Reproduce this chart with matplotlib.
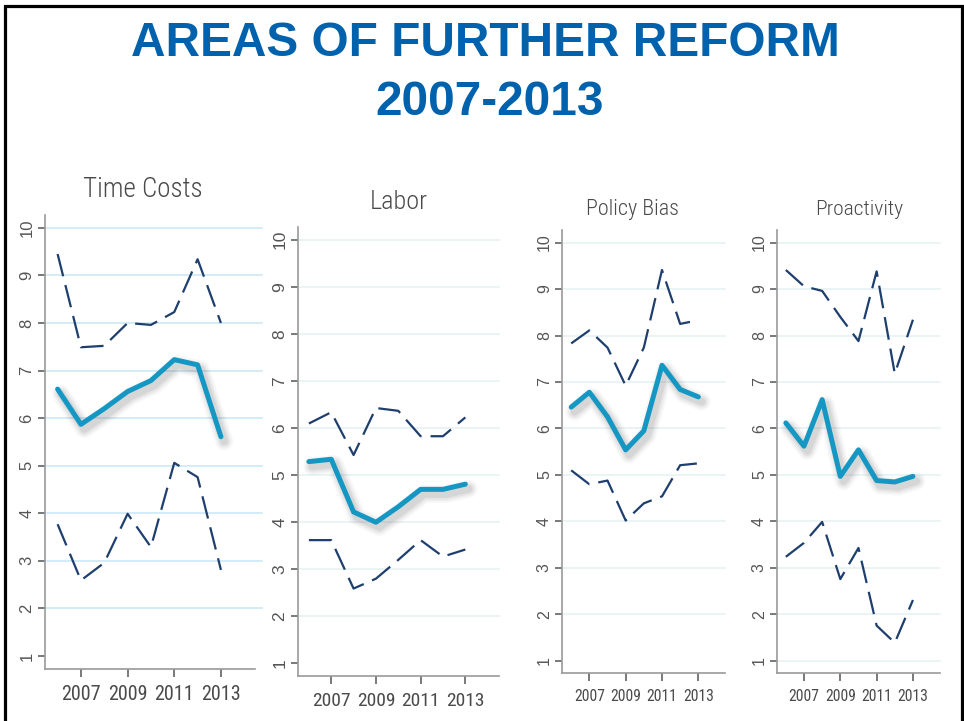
import matplotlib
matplotlib.use("Agg")
import matplotlib.pyplot as plt
import matplotlib.patheffects as pe
from matplotlib import font_manager as fm
from matplotlib.patches import Rectangle

# ---------------- data ----------------
years = [2006, 2007, 2008, 2009, 2010, 2011, 2012, 2013]
xtick_years = [2007, 2009, 2011, 2013]
ytick_vals = [1, 2, 3, 4, 5, 6, 7, 8, 9, 10]
panel_titles = ["Time Costs", "Labor", "Policy Bias", "Proactivity"]
title_line1 = "AREAS OF FURTHER REFORM"
title_line2 = "2007-2013"

time_upper = [9.45, 7.49, 7.52, 8.00, 7.96, 8.23, 9.34, 8.00]
time_mid = [6.61, 5.87, 6.20, 6.56, 6.79, 7.23, 7.12, 5.61]
time_lower = [3.77, 2.59, 2.96, 3.99, 3.29, 5.06, 4.76, 2.81]

labor_upper = [6.09, 6.33, 5.42, 6.42, 6.36, 5.82, 5.82, 6.22]
labor_mid = [5.28, 5.33, 4.21, 3.99, 4.32, 4.69, 4.69, 4.80]
labor_lower = [3.61, 3.61, 2.58, 2.79, 3.19, 3.61, 3.26, 3.41]

policy_upper = [7.83, 8.11, 7.74, 6.92, 7.74, 9.41, 8.25, 8.33]
policy_mid = [6.46, 6.78, 6.25, 5.54, 5.95, 7.36, 6.84, 6.68]
policy_lower = [5.10, 4.80, 4.88, 4.02, 4.39, 4.54, 5.21, 5.25]

proact_upper = [9.41, 9.06, 8.96, 8.40, 7.88, 9.38, 7.18, 8.34]
proact_mid = [6.12, 5.62, 6.62, 4.97, 5.54, 4.88, 4.85, 4.97]
proact_lower = [3.24, 3.54, 3.99, 2.76, 3.43, 1.76, 1.39, 2.31]

series = [
    (time_upper, time_mid, time_lower),
    (labor_upper, labor_mid, labor_lower),
    (policy_upper, policy_mid, policy_lower),
    (proact_upper, proact_mid, proact_lower),
]

# ---------------- fonts ----------------
installed = {f.name for f in fm.fontManager.ttflist}

def pick(names, default):
    for n in names:
        if n in installed:
            return n
    return default

narrow = pick(["Roboto Condensed", "Liberation Sans Narrow", "Archivo Narrow", "PT Sans Narrow",
               "Open Sans Condensed", "IBM Plex Sans Condensed", "Fira Sans Condensed",
               "Encode Sans Condensed", "Asap Condensed", "Barlow Semi Condensed"], "Roboto")
regular = pick(["Liberation Sans", "Arimo"], "DejaVu Sans")

W, H = 964, 721
fig = plt.figure(figsize=(W / 100, H / 100), dpi=100)
fig.patch.set_facecolor("white")
renderer = fig.canvas.get_renderer()

def fit_size(text, family, target_px, base=20.0, weight="normal"):
    t = fig.text(0, 0, text, fontfamily=family, fontsize=base, fontweight=weight)
    w = t.get_window_extent(renderer).width
    t.remove()
    return base * target_px / w

def frac_rect(left, right, top, bottom):
    return [left / W, 1 - bottom / H, (right - left) / W, (bottom - top) / H]

# panel geometry in pixels (left, right, top, bottom), limits
panels = [
    dict(rect=frac_rect(45, 255, 215, 669), xlim=(2005.46, 2014.46), ylim=(0.727, 10.27),
         grid="#c8e6f7", gext=1.035, glevels=[2, 3, 4, 5, 6, 7, 8, 9, 10],
         title_xy=(142.5, 197), twidth=119, xw=40, yfs=12),
    dict(rect=frac_rect(297.7, 499.3, 227, 676), xlim=(2005.5, 2014.52), ylim=(0.72, 10.27),
         grid="#e6f1f2", gext=1.0, glevels=[2, 3, 4, 5, 6, 7, 8, 9, 10],
         title_xy=(399, 209), twidth=58, xw=38.5, yfs=12.5),
    dict(rect=frac_rect(562.3, 725, 230, 673), xlim=(2005.51, 2014.47), ylim=(0.74, 10.27),
         grid="#e6f1f2", gext=1.0, glevels=[2, 3, 4, 5, 6, 7, 8, 9, 10],
         title_xy=(632.5, 215), twidth=93, xw=31, yfs=11.5),
    dict(rect=frac_rect(777.3, 940, 230, 673), xlim=(2005.53, 2014.49), ylim=(0.74, 10.27),
         grid="#e6f1f2", gext=1.0, glevels=[1, 2, 3, 4, 5, 6, 7, 8, 9, 10],
         title_xy=(859.5, 215), twidth=88, xw=31, yfs=11.5),
]

main_color = "#1597c4"
dash_color = "#1e3f6e"
axis_gray = "#9a9a9a"
text_gray = "#4a4a4a"

shadow = [pe.SimpleLineShadow(offset=(2.4, -3.4), shadow_color="#3a3a3a", alpha=a, linewidth=w)
          for w, a in [(13, 0.035), (10.5, 0.045), (8, 0.06), (5.5, 0.08)]] + [pe.Normal()]

for p, (up, mid, low), title in zip(panels, series, panel_titles):
    ax = fig.add_axes(p["rect"])
    ax.set_xlim(*p["xlim"])
    ax.set_ylim(*p["ylim"])
    ax.set_facecolor("none")
    for s in ["top", "right"]:
        ax.spines[s].set_visible(False)
    for s in ["left", "bottom"]:
        ax.spines[s].set_color(axis_gray)
        ax.spines[s].set_linewidth(1.2)
    for g in p["glevels"]:
        ax.plot([0, p["gext"]], [g, g], transform=ax.get_yaxis_transform(),
                color=p["grid"], lw=1.1, zorder=0, clip_on=False)
    lw_d = 1.6
    for ser in (up, low):
        ax.plot(years, ser, color=dash_color, lw=lw_d, dashes=(16.5 / lw_d, 6.5 / lw_d),
                dash_capstyle="butt", solid_joinstyle="miter", zorder=3)
    ax.plot(years, mid, color=main_color, lw=3.6, solid_joinstyle="round",
            solid_capstyle="round", zorder=4, path_effects=shadow)
    xfs = fit_size("2007", narrow, p["xw"])
    ax.set_xticks(xtick_years)
    ax.set_xticklabels([str(y) for y in xtick_years], fontfamily=narrow,
                       fontsize=xfs, color=text_gray)
    ax.set_yticks(ytick_vals)
    ax.set_yticklabels([str(v) for v in ytick_vals], fontfamily=regular,
                       fontsize=p["yfs"], color="#555555", rotation=90, va="center")
    ax.tick_params(axis="x", length=5.8, width=1.1, color="#555555", pad=6.0, direction="out")
    ax.tick_params(axis="y", length=5.0, width=1.1, color="#555555", pad=2.5, direction="out")
    tfs = fit_size(title, narrow, p["twidth"], weight="light")
    fig.text(p["title_xy"][0] / W, 1 - p["title_xy"][1] / H, title, ha="center",
             va="baseline", fontfamily=narrow, fontweight="light", fontsize=tfs, color=text_gray)

fs1 = fit_size(title_line1, regular, 707, weight="bold")
fig.text(485 / W, 1 - 56 / H, title_line1, ha="center", va="baseline",
         fontfamily=regular, fontweight="bold", fontsize=fs1, color="#0062ac")
fig.text(489.5 / W, 1 - 115 / H, title_line2, ha="center", va="baseline",
         fontfamily=regular, fontweight="bold", fontsize=fs1, color="#0062ac")

# slide border
fig.patches.append(Rectangle((5 / W, -0.05), (961.5 - 5) / W, (1 - 6 / H) + 0.05,
                             transform=fig.transFigure, fill=False, edgecolor="black",
                             linewidth=2.3, zorder=10))

fig.savefig("out.png", dpi=100, facecolor="white")
